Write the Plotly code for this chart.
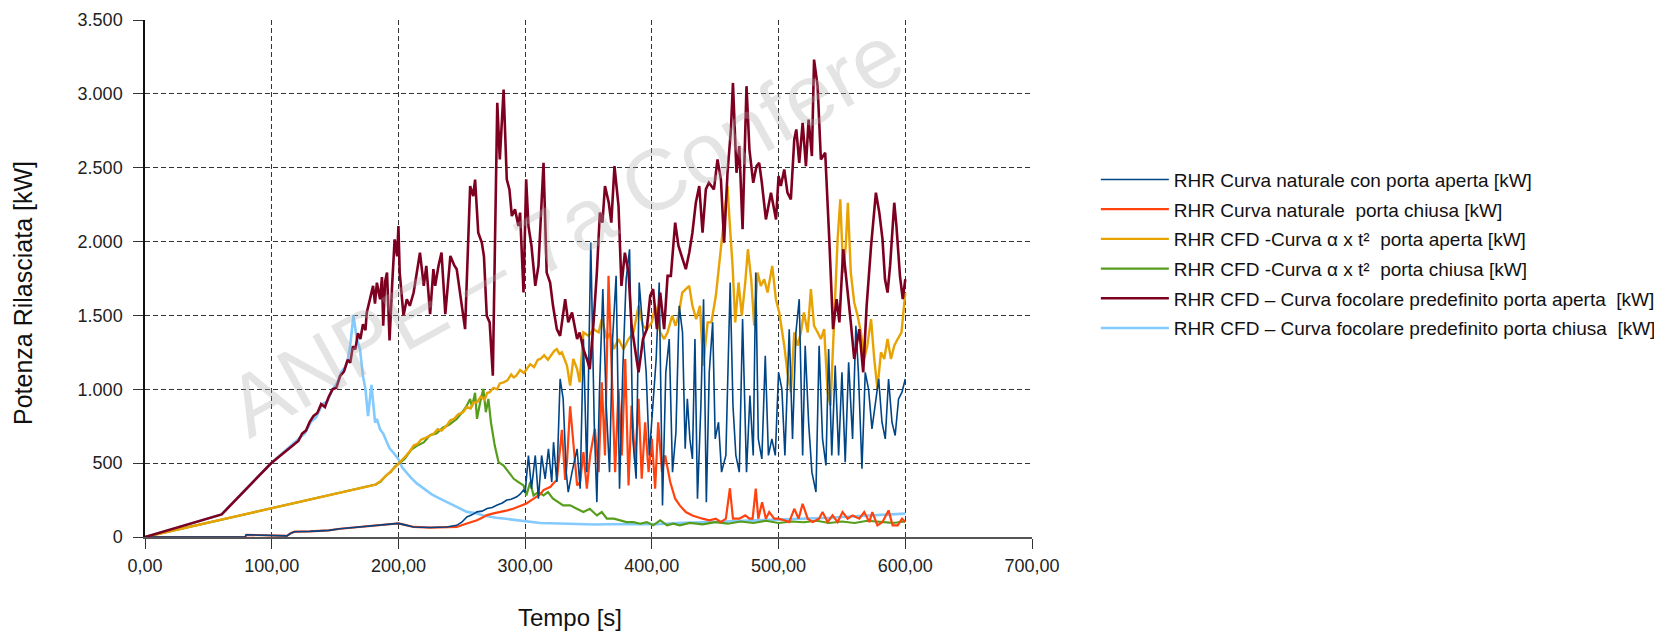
import plotly.graph_objects as go

# ---------------- data ----------------
# RHR Curva naturale con porta aperta
t_nat_ap = [0, 79, 80, 90, 100, 112, 115, 118, 130, 145, 154, 165, 180, 190, 200, 205, 212, 225, 238, 246,
            250, 254, 258, 262, 266, 270, 274, 278, 282, 285.5, 289, 293.4, 296, 298.7, 300, 302.6, 305, 308,
            310.5, 313, 315.8, 318.4, 321, 322.4, 325, 327.6, 330, 332.4, 334, 337, 341, 343.4, 346, 348.7,
            351.8, 354.5, 356.6, 358.7, 361.3, 364, 366.6, 369, 371.8, 374.5, 377, 379.7, 382.4, 385, 387.6,
            390, 393, 395.5, 398, 400.8, 403.4, 405.8, 408.4, 411, 413.7, 416.3, 419, 421.6, 424.2, 426.3, 428,
            430, 432, 434, 436, 438.7, 440.8, 443, 445.3, 448, 450, 452.6, 455, 458.4, 461.8, 464, 466.3, 469,
            471.6, 474.7, 477.4, 480, 482, 484, 486.8, 489.5, 492, 494.7, 497.4, 500, 502.6, 505, 508.4, 511,
            513.7, 516.3, 519, 521, 523.7, 526.3, 529.5, 532, 534.7, 537.4, 539.5, 542, 544.7, 547.4, 550,
            552.6, 555.3, 558.4, 561, 563, 565.8, 568.4, 571, 573.7, 576.3, 579, 581.6, 584.2, 586.8, 589.5,
            592, 594.7, 597.4, 600]
v_nat_ap = [0, 0, 15, 14, 12, 8, 25, 36, 38, 45, 56, 65, 74, 85, 92, 82, 68, 64, 68, 79,
            100, 136, 150, 170, 175, 193, 200, 216, 230, 250, 255, 272, 290, 318, 300, 552, 327, 552,
            259, 552, 394, 597, 372, 642, 372, 1070, 935, 439, 304, 439, 597, 327, 1340, 439,
            1993, 777, 236, 1002, 1678, 890, 439, 1340, 1768, 327, 1115, 1745, 1948, 664, 394,
            1723, 1407, 1115, 552, 890, 1205, 1723, 214, 1115, 1340, 439, 709, 1565, 1385, 597, 935,
            664, 529, 1340, 259, 890, 1610, 236, 1115, 1453, 664, 777, 439, 552, 1723, 890, 552, 439,
            1475, 439, 957, 552, 1790, 664, 529, 1227, 552, 664, 552, 1115, 1002, 552, 1407, 664,
            1385, 1610, 552, 1295, 777, 439, 304, 1295, 664, 484, 1272, 552, 1160, 552, 1115,
            507, 1182, 664, 1430, 1115, 462, 1115, 1002, 732, 890, 1070, 777, 664, 1070, 777,
            687, 935, 980, 1070]

# RHR Curva naturale porta chiusa
t_nat_ch = [0, 79, 80, 100, 112, 115, 118, 130, 145, 154, 165, 180, 190, 200, 205, 212, 225, 238, 246,
            254, 258, 262, 266, 270, 275, 281, 286, 291, 296, 301, 305, 309, 312, 314.5, 317, 320, 322, 325,
            327.6, 329, 331.6, 333, 335.5, 338, 341, 343.4, 346, 348.7, 351.3, 355, 358, 360.5, 363, 365.8,
            368.4, 371, 373.7, 376.3, 379, 381.6, 384, 386.8, 389.5, 392, 394.7, 397.4, 400, 402.6, 405, 408,
            410.5, 414.5, 418.4, 422, 426.8, 432, 440, 445.3, 450.5, 454.5, 458.4, 461.6, 464, 469, 473.7,
            477, 479.5, 482, 484, 487, 490, 492.6, 496.6, 500, 504.5, 508.4, 512.4, 515.8, 519, 523, 527,
            532, 534.7, 538.7, 542.6, 546.6, 550.5, 554.5, 558.4, 563.7, 567.6, 571.6, 574, 578, 582, 586.8,
            590, 594, 597.4, 600]
v_nat_ch = [0, 0, 15, 12, 8, 25, 36, 38, 45, 56, 65, 74, 85, 92, 82, 68, 64, 68, 68,
            91, 100, 113, 130, 148, 160, 170, 180, 193, 210, 227, 250, 272, 290, 318, 330, 340, 360, 386,
            600, 726, 386, 507, 885, 664, 349, 372, 574, 327, 552, 732, 439, 1047, 552, 1768,
            1115, 439, 1002, 552, 1205, 349, 890, 507, 935, 394, 777, 439, 664, 327, 777, 439,
            552, 372, 259, 214, 169, 146, 124, 113, 124, 101, 124, 330, 124, 124, 146,
            124, 124, 327, 124, 236, 124, 169, 124, 124, 113, 101, 191, 124, 225, 124, 101,
            124, 169, 101, 146, 101, 169, 124, 146, 124, 169, 101, 169, 79, 101, 180,
            79, 79, 124, 101]

# RHR CFD - Curva alfa x t^2 porta aperta
t_alfa_ap = [0, 182, 186, 190, 194, 197, 200, 203, 206, 209, 212, 215, 218, 221, 225, 228, 231, 234, 238,
             241, 244, 247, 251, 254, 257, 259, 262, 265, 268, 270, 272, 275, 278, 280, 283, 286, 289, 291,
             293, 296, 299, 301, 304, 307, 310, 312, 315, 318, 320, 323, 325, 327, 329, 331, 333, 335.5, 338,
             341, 343, 346, 350, 354, 358, 360.5, 364.5, 367, 370, 373.7, 377.6, 381.6, 385.5, 389.5, 393,
             396, 400, 402.6, 406.6, 409.7, 412.4, 416, 418.7, 421, 424, 426.8, 429.5, 432, 435, 438, 440.5,
             444, 447, 450.5, 454.5, 457, 459.7, 461.6, 463.7, 465.8, 468.4, 471, 473.7, 475.8, 478.4, 480.8,
             483.4, 486, 488.7, 491.3, 495, 497.9, 500.5, 504.5, 507, 509.7, 512.4, 515, 517.6, 520, 523,
             525.5, 528, 530.8, 533.4, 536, 538.7, 541, 544, 546.6, 548.7, 551, 553, 554.7, 557, 559.7, 562.4,
             565, 567.6, 570, 573, 575.5, 578, 580.8, 583.4, 586, 588.7, 591.3, 594, 597, 600]
v_alfa_ap = [0, 355, 380, 410, 445, 470, 495, 520, 550, 580, 619, 630, 660, 670, 687, 700, 730, 720, 754,
             790, 800, 830, 845, 880, 870, 910, 912, 950, 930, 975, 980, 1010, 1000, 1040, 1047, 1060, 1100, 1080,
             1092, 1130, 1110, 1137, 1170, 1150, 1200, 1205, 1230, 1200, 1227, 1260, 1272, 1240, 1250, 1210, 1160, 1025, 1205,
             1137, 1047, 1385, 1362, 1407, 1385, 1475, 1340, 1380, 1272, 1340, 1272, 1340, 1385, 1565, 1430,
             1407, 1453, 1565, 1385, 1340, 1385, 1498, 1430, 1498, 1655, 1678, 1700, 1565, 1475, 1565, 1160,
             1453, 1453, 1633, 1970, 2196, 2376, 2106, 1835, 1453, 1723, 1498, 1723, 1948, 1745, 1430,
             1790, 1700, 1745, 1655, 1835, 1610, 1520, 1295, 1115, 980, 1385, 1295, 1385, 1520, 1385,
             1678, 1430, 1385, 1340, 1407, 980, 890, 1565, 2016, 2286, 1790, 1970, 2263, 1790, 1588, 1498,
             1385, 1205, 1295, 1475, 1205, 1002, 1250, 1205, 1340, 1205, 1295, 1340, 1385, 1655]

# RHR CFD - Curva alfa x t^2 porta chiusa
t_alfa_ch = [0, 182, 186, 190, 194, 197, 200, 205, 210, 215, 220, 225, 230, 235, 240, 246, 250, 254, 256.6,
             258, 260.5, 262, 264.5, 267, 269, 271, 273, 276, 279, 283, 287, 291, 294.7, 298.7, 301, 304,
             306.6, 310.5, 314.5, 318, 322, 326, 330, 335.5, 341, 346, 351, 356.6, 360.5, 364.5, 370, 375,
             380, 385.5, 390.8, 396, 401, 406.6, 412, 417, 422, 430, 440, 450, 460, 470, 480, 490, 500, 510,
             520, 530, 540, 550, 560, 570, 580, 590, 600]
v_alfa_ch = [0, 355, 375, 415, 440, 475, 495, 530, 590, 620, 640, 690, 700, 740, 760, 800, 840, 890, 935,
             880, 976, 800, 912, 1002, 845, 935, 777, 619, 507, 484, 439, 394, 372, 349, 281, 372,
             281, 304, 281, 304, 259, 236, 214, 214, 191, 169, 191, 146, 169, 124, 124, 113,
             101, 101, 90, 101, 79, 113, 79, 90, 79, 95, 85, 100, 90, 105, 95, 110, 95, 105,
             100, 110, 95, 105, 95, 110, 100, 95, 105]

# RHR CFD - Curva focolare predefinito porta aperta
t_foc_ap = [0, 60.5, 99.5, 117, 121, 124, 127, 130, 133, 136, 139, 142, 145, 148, 151, 154, 157, 160, 162,
            164, 166, 168, 170, 172, 174, 175, 177.6, 180, 181.5, 183, 185.5, 187, 188, 189.5, 191, 193, 195,
            197, 199, 200, 201, 204, 206.6, 209, 212, 216, 217, 220, 222, 225, 227.6, 229, 231.6, 234, 237,
            241, 244, 246, 248.7, 252.6, 256.6, 259, 260.5, 263, 265.8, 267.5, 269.7, 272, 274.5, 278, 280,
            283, 285.5, 287.6, 289.5, 292, 294.7, 296, 298.7, 300.8, 302.6, 305, 308, 310.5, 314.5, 317,
            319.7, 322, 325, 327.6, 331.6, 334, 337, 341, 343, 346, 348.7, 351, 354, 356.6, 359, 361, 363,
            366, 368, 370.5, 373.7, 376, 378.7, 381.6, 384, 387, 389.5, 393, 396, 398.7, 401, 404, 406.6,
            409.7, 412.4, 415, 418.4, 421, 423.7, 426.8, 429.5, 432, 434.7, 437.4, 440, 442.6, 445, 449,
            451.8, 454.5, 457, 459.7, 462.4, 464, 466.8, 469, 471.6, 474.7, 477, 480, 482.6, 484.7, 486.8,
            490, 494, 498, 500, 501.8, 504.5, 507, 509.7, 512.4, 514, 516.3, 519, 521.6, 523.7, 526.3, 528,
            530.8, 533.4, 536.8, 540, 543, 545.8, 548, 551, 553.7, 557, 559.7, 563.7, 566.8, 569.5, 573,
            576.8, 579.5, 582, 584, 586, 588, 591.3, 593, 595.8, 598, 600]
v_foc_ap = [0, 153, 499, 627, 650, 700, 720, 780, 820, 840, 900, 880, 950, 1000, 1010, 1090, 1120, 1200, 1180,
            1290, 1270, 1380, 1340, 1440, 1400, 1519, 1609, 1700, 1580, 1722, 1609, 1760, 1430, 1731, 1790, 1330, 1700,
            2015, 1900, 2105, 1790, 1498, 1610, 1565, 1655, 1858, 1925, 1700, 1835, 1509, 1813, 1700, 1835, 1925, 1509,
            1903, 1840, 1813, 1633, 1407, 2376, 2308, 2420, 2060, 1993, 1900, 1498, 1453, 1092, 2939, 2556,
            3029, 2421, 2353, 2173, 2218, 2106, 2196, 1655, 2421, 2106, 1970, 1700, 1835, 2533, 1790,
            1723, 1565, 1407, 1362, 1610, 1453, 1520, 1340, 1385, 1272, 1205, 1137, 1453, 1790, 2196, 2128, 2376,
            2263, 2128, 2511, 2241, 1700, 1925, 1790, 1430, 1250, 1115, 1340, 1407, 1633, 1678, 1407, 1655,
            1407, 1768, 1768, 2128, 1970, 1903, 1813, 1925, 2060, 2263, 2376, 2060, 2353, 2398, 2353,
            2556, 2421, 1993, 2466, 2759, 3074, 2466, 2646, 2083, 3052, 2623, 2398, 2511, 2533, 2398,
            2150, 2331, 2150, 2443, 2376, 2488, 2331, 2286, 2691, 2759, 2533, 2804, 2511, 2826, 2579, 3232,
            3052, 2556, 2601, 2016, 1407, 1610, 1453, 1948, 1745, 1453, 1205, 1407, 1115, 1565, 1970,
            2331, 2196, 2016, 1745, 1655, 1835, 2263, 2106, 1768, 1610, 1745]

# RHR CFD - Curva focolare predefinito porta chiusa
t_foc_ch = [0, 60.5, 99.5, 117, 122, 126, 131, 135, 140, 144, 148, 152, 155, 158, 160, 162, 164.5, 167, 169.7,
            172, 174, 176, 178.7, 181.6, 183, 185.5, 188, 191, 193, 196, 200, 203, 206.6, 210, 214.5, 218, 222,
            226, 230, 234, 238, 242, 246, 250, 254, 258, 262, 267, 272, 277, 283, 290, 296, 304, 312, 320,
            327.6, 335, 343, 355, 364.5, 375, 385.5, 395, 404, 420, 440, 460, 480, 500, 520, 540, 560, 580, 600]
v_foc_ch = [0, 153, 499, 627, 670, 700, 780, 810, 900, 920, 1000, 1050, 1120, 1150, 1200, 1300, 1500, 1350, 1270,
            1090, 1000, 819, 1030, 774, 800, 729, 700, 639, 600, 571, 526, 470, 431, 400, 363, 340, 318,
            290, 272, 255, 238, 220, 204, 185, 170, 165, 159, 145, 136, 130, 125, 118, 113, 105, 95, 93,
            91, 88, 86, 85, 86, 88, 91, 88, 86, 95, 100, 105, 110, 115, 125, 130, 140, 150, 158]

names = [
    "RHR Curva naturale con porta aperta [kW]",
    "RHR Curva naturale  porta chiusa [kW]",
    "RHR CFD -Curva α x t²  porta aperta [kW]",
    "RHR CFD -Curva α x t²  porta chiusa [kW]",
    "RHR CFD – Curva focolare predefinito porta aperta  [kW]",
    "RHR CFD – Curva focolare predefinito porta chiusa  [kW]",
]
x_ticks = [0, 100, 200, 300, 400, 500, 600, 700]
y_ticks = [0, 500, 1000, 1500, 2000, 2500, 3000, 3500]
watermark = "ANPE – 7a Confere"

# ---------------- figure ----------------
series = [
    (t_nat_ap, v_nat_ap, "#004586", 1.6),
    (t_nat_ch, v_nat_ch, "#ff420e", 2.2),
    (t_alfa_ap, v_alfa_ap, "#e8a202", 2.4),
    (t_alfa_ch, v_alfa_ch, "#579d1c", 2.2),
    (t_foc_ap, v_foc_ap, "#7e0021", 2.6),
    (t_foc_ch, v_foc_ch, "#83caff", 2.6),
]
draw_order = [5, 3, 2, 1, 0, 4]

fig = go.Figure()
for i in draw_order:
    t, v, c, w = series[i]
    fig.add_trace(go.Scatter(x=t, y=v, mode="lines", name=names[i],
                             legendgroup="g%d" % i,
                             line=dict(color=c, width=w), legendrank=i + 1))

FONT = "Liberation Sans, Arial, sans-serif"

fig.update_layout(
    width=1654, height=632,
    margin=dict(l=145, r=622, t=20, b=95, autoexpand=False),
    paper_bgcolor="white", plot_bgcolor="white",
    separators=",.",
    font=dict(family=FONT, size=18, color="#222"),
    showlegend=True,
    legend=dict(x=1.072, xanchor="left", y=0.728, yanchor="top",
                font=dict(size=19, color="#111"), itemwidth=68,
                tracegroupgap=2, bgcolor="rgba(0,0,0,0)", traceorder="grouped"),
    xaxis=dict(range=[0, 700], tickvals=x_ticks, tickformat=".2f",
               showgrid=True, gridcolor="#333", griddash="5px,3px", gridwidth=1,
               showline=True, linecolor="#555", linewidth=1.5,
               ticks="outside", ticklen=10, tickcolor="#333", ticklabelstandoff=2,
               zeroline=False, tickfont=dict(size=18, color="#222")),
    yaxis=dict(range=[0, 3500], tickvals=y_ticks, tickformat=",d",
               showgrid=True, gridcolor="#333", griddash="5px,3px", gridwidth=1,
               showline=True, linecolor="#111", linewidth=1.5,
               ticks="outside", ticklen=10, tickcolor="#333", ticklabelstandoff=7,
               zeroline=False, tickfont=dict(size=18, color="#222")),
    annotations=[
        dict(text=watermark, x=331, y=2080, xref="x", yref="y",
             showarrow=False, textangle=-29, xanchor="center", yanchor="middle",
             font=dict(family=FONT, size=86, color="rgba(170,170,170,0.32)")),
        dict(text="Tempo [s]", xref="paper", yref="paper",
             x=(570 - 145) / 887, y=-(617 - 537) / 517, showarrow=False,
             xanchor="center", yanchor="middle", font=dict(size=24, color="#111")),
        dict(text="Potenza Rilasciata [kW]", xref="paper", yref="paper",
             x=-(145 - 23) / 887, y=(537 - 293) / 517, showarrow=False, textangle=-90,
             xanchor="center", yanchor="middle", font=dict(size=25, color="#111")),
    ],
)

fig.write_html("out.html")
